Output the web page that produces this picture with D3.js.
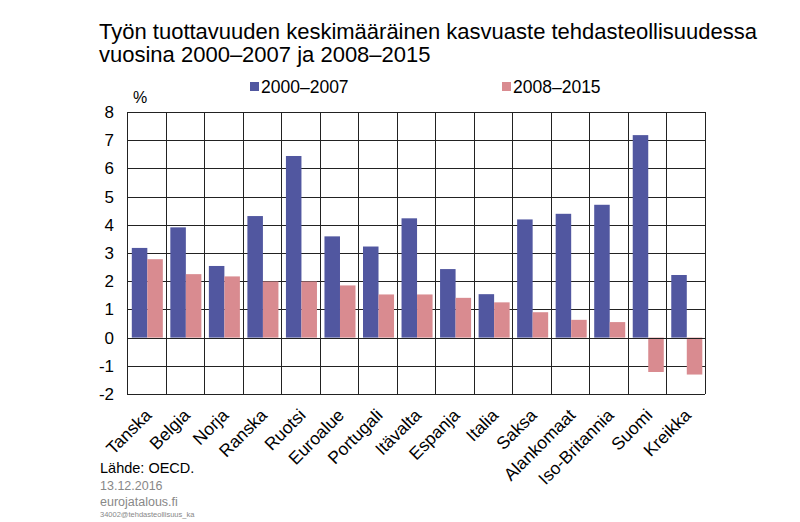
<!DOCTYPE html>
<html><head><meta charset="utf-8">
<script src="https://cdn.jsdelivr.net/npm/d3@7"></script>
<style>body{margin:0;background:#fff}svg{display:block;font-family:"Liberation Sans",Arial,sans-serif}</style>
</head><body><svg id="c" width="800" height="522"></svg>
<script>
const categories = ["Tanska","Belgia","Norja","Ranska","Ruotsi","Euroalue","Portugali","Itävalta","Espanja","Italia","Saksa","Alankomaat","Iso-Britannia","Suomi","Kreikka"];
const series1Name = "2000–2007";
const series2Name = "2008–2015";
const series1 = [3.18,3.91,2.54,4.31,6.44,3.59,3.23,4.23,2.43,1.54,4.19,4.39,4.71,7.18,2.22];
const series2 = [2.78,2.25,2.17,1.99,1.99,1.85,1.53,1.53,1.41,1.25,0.90,0.63,0.55,-1.22,-1.31];
const yTicks = [-2,-1,0,1,2,3,4,5,6,7,8];
const colors = ["#5157A0","#D98B90"];

const svg = d3.select("#c");
const L=127,R=705,T=112,B=394;
const x = d3.scaleBand().domain(categories).range([L,R]).paddingInner(0).paddingOuter(0);
const y = d3.scaleLinear().domain([-2,8]).range([B,T]);

// title
svg.append("text").attr("x",99).attr("y",39).attr("font-size",22).attr("fill","#000")
  .text("Työn tuottavuuden keskimääräinen kasvuaste tehdasteollisuudessa");
svg.append("text").attr("x",99).attr("y",62).attr("font-size",22).attr("fill","#000")
  .text("vuosina 2000–2007 ja 2008–2015");

// legend
const leg=[{n:series1Name,c:colors[0],x:250},{n:series2Name,c:colors[1],x:502}];
leg.forEach(d=>{
  svg.append("rect").attr("x",d.x).attr("y",82).attr("width",9).attr("height",9).attr("fill",d.c);
  svg.append("text").attr("x",d.x+11).attr("y",93).attr("font-size",17.5).text(d.n);
});
svg.append("text").attr("x",133).attr("y",103).attr("font-size",16).text("%");

// grid
const g=svg.append("g");
g.selectAll("line.h").data(yTicks).join("line")
  .attr("x1",L).attr("x2",R).attr("y1",d=>Math.round(y(d))+0.5).attr("y2",d=>Math.round(y(d))+0.5)
  .attr("stroke","#222").attr("stroke-width",1);
const bounds = categories.map(c=>x(c)).concat([R]);
g.selectAll("line.v").data(bounds).join("line")
  .attr("x1",d=>Math.round(d)+0.5).attr("x2",d=>Math.round(d)+0.5).attr("y1",T).attr("y2",B)
  .attr("stroke","#222").attr("stroke-width",1);

// bars
const bw = x.bandwidth();
const inner = d3.scaleBand().domain([0,1]).range([4.8, bw-2.7]).padding(0);
[series1,series2].forEach((s,i)=>{
  svg.append("g").selectAll("rect").data(s).join("rect")
    .attr("x",(d,j)=>x(categories[j])+inner(i))
    .attr("width",inner.bandwidth())
    .attr("y",d=>Math.min(y(d),y(0)))
    .attr("height",d=>Math.abs(y(d)-y(0)))
    .attr("fill",colors[i]);
});
// zero line on top
svg.append("line").attr("x1",L).attr("x2",R).attr("y1",Math.round(y(0))+0.5).attr("y2",Math.round(y(0))+0.5).attr("stroke","#222");

// y axis labels
svg.append("g").selectAll("text").data(yTicks).join("text")
  .attr("x",114).attr("y",d=>y(d)+6).attr("text-anchor","end").attr("font-size",17).text(d=>d);

// x labels
svg.append("g").selectAll("text").data(categories).join("text")
  .attr("transform",d=>`translate(${x(d)+bw/2+2},${B+18}) rotate(-45)`)
  .attr("text-anchor","end").attr("font-size",17.5).attr("dy","0.35em").text(d=>d);

// footer
svg.append("text").attr("x",100).attr("y",473).attr("font-size",14.5).attr("fill","#000").text("Lähde: OECD.");
svg.append("text").attr("x",100).attr("y",490).attr("font-size",12.5).attr("fill","#888").text("13.12.2016");
svg.append("text").attr("x",100).attr("y",506).attr("font-size",12.5).attr("fill","#888").text("eurojatalous.fi");
svg.append("text").attr("x",100).attr("y",517).attr("font-size",7.5).attr("fill","#888").text("34002@tehdasteollisuus_ka");
</script></body></html>
